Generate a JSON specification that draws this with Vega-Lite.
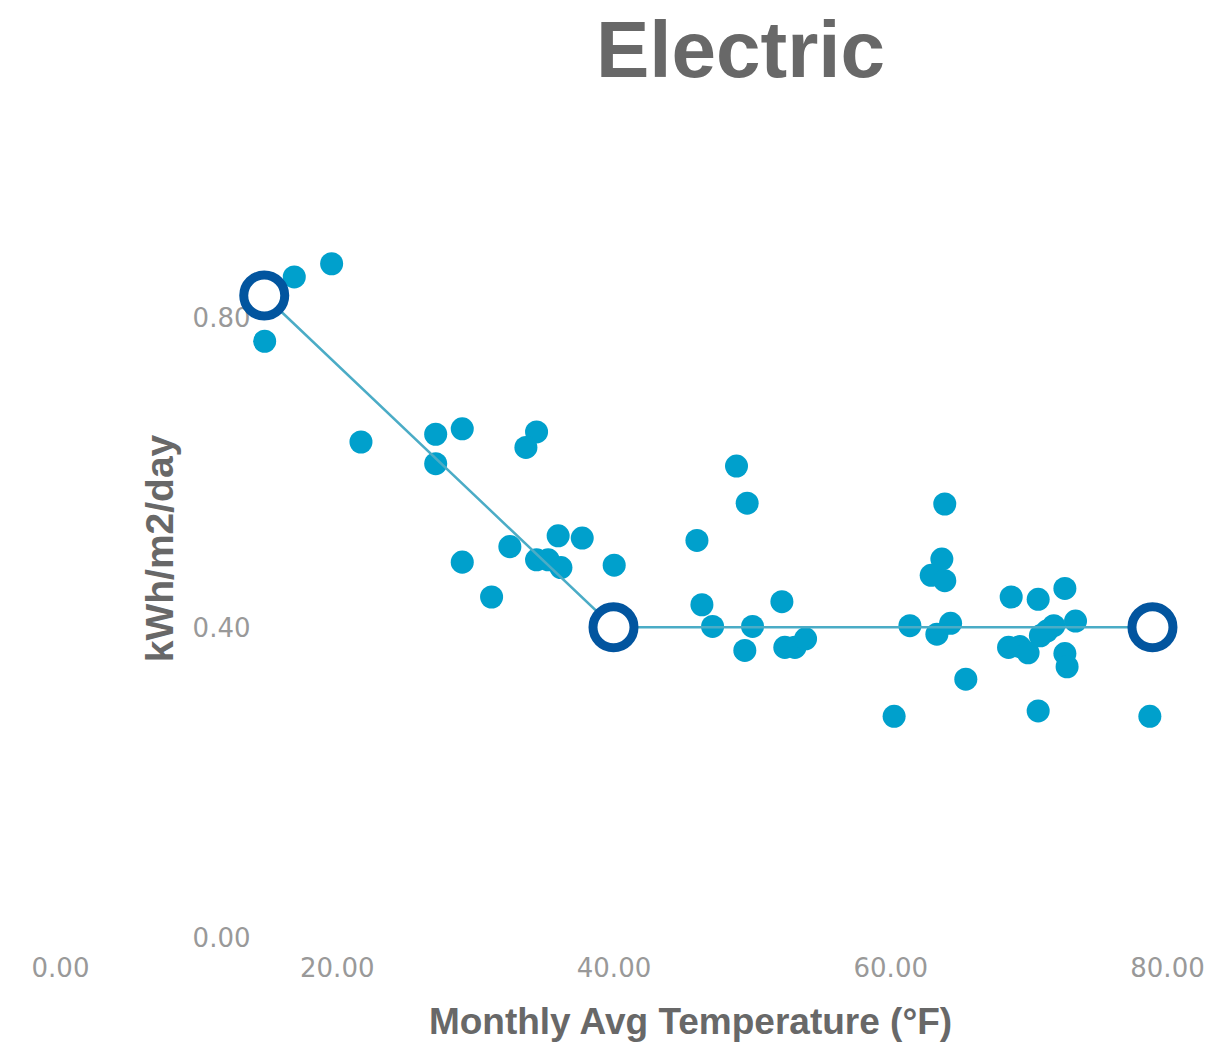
{
  "$schema": "https://vega.github.io/schema/vega-lite/v6.json",
  "width": 1107,
  "height": 775,
  "autosize": "none",
  "padding": {"left": 60, "top": 163, "right": 39, "bottom": 107},
  "background": "white",
  "config": {"view": {"stroke": null}},
  "title": {
    "text": "Electric",
    "font": "Liberation Sans",
    "fontSize": 80,
    "fontWeight": "bold",
    "color": "#686868",
    "anchor": "middle",
    "baseline": "alphabetic",
    "dx": 127,
    "offset": 6
  },
  "datasets": {
    "points": [
      {"temp": 14.79, "eui": 0.770},
      {"temp": 16.93, "eui": 0.853},
      {"temp": 19.63, "eui": 0.870},
      {"temp": 21.75, "eui": 0.640},
      {"temp": 27.15, "eui": 0.650},
      {"temp": 29.07, "eui": 0.657},
      {"temp": 27.15, "eui": 0.612},
      {"temp": 34.44, "eui": 0.653},
      {"temp": 33.67, "eui": 0.633},
      {"temp": 36.00, "eui": 0.519},
      {"temp": 37.74, "eui": 0.516},
      {"temp": 32.51, "eui": 0.505},
      {"temp": 34.44, "eui": 0.488},
      {"temp": 35.28, "eui": 0.488},
      {"temp": 36.20, "eui": 0.478},
      {"temp": 40.05, "eui": 0.481},
      {"temp": 29.07, "eui": 0.485},
      {"temp": 31.19, "eui": 0.440},
      {"temp": 46.03, "eui": 0.513},
      {"temp": 48.89, "eui": 0.609},
      {"temp": 49.66, "eui": 0.561},
      {"temp": 46.39, "eui": 0.430},
      {"temp": 47.16, "eui": 0.402},
      {"temp": 50.05, "eui": 0.402},
      {"temp": 49.49, "eui": 0.371},
      {"temp": 52.17, "eui": 0.434},
      {"temp": 52.38, "eui": 0.375},
      {"temp": 53.11, "eui": 0.375},
      {"temp": 53.88, "eui": 0.386},
      {"temp": 63.94, "eui": 0.560},
      {"temp": 63.73, "eui": 0.489},
      {"temp": 62.96, "eui": 0.468},
      {"temp": 63.94, "eui": 0.461},
      {"temp": 61.42, "eui": 0.403},
      {"temp": 63.37, "eui": 0.392},
      {"temp": 64.36, "eui": 0.406},
      {"temp": 65.46, "eui": 0.334},
      {"temp": 60.28, "eui": 0.286},
      {"temp": 68.74, "eui": 0.440},
      {"temp": 70.69, "eui": 0.437},
      {"temp": 72.62, "eui": 0.451},
      {"temp": 73.39, "eui": 0.409},
      {"temp": 71.82, "eui": 0.403},
      {"temp": 71.32, "eui": 0.396},
      {"temp": 70.85, "eui": 0.390},
      {"temp": 68.55, "eui": 0.375},
      {"temp": 69.36, "eui": 0.376},
      {"temp": 69.96, "eui": 0.368},
      {"temp": 72.62, "eui": 0.367},
      {"temp": 72.78, "eui": 0.350},
      {"temp": 70.69, "eui": 0.293},
      {"temp": 78.76, "eui": 0.286}
    ],
    "model": [
      {"temp": 14.76, "eui": 0.829},
      {"temp": 40.0, "eui": 0.401},
      {"temp": 78.95, "eui": 0.401}
    ]
  },
  "encoding": {
    "x": {
      "field": "temp",
      "type": "quantitative",
      "scale": {"domain": [0, 80], "nice": false, "zero": false},
      "axis": {
        "title": "Monthly Avg Temperature (°F)",
        "values": [0, 20, 40, 60, 80],
        "format": ".2f",
        "ticks": false,
        "domain": false,
        "grid": false,
        "labelFont": "DejaVu Sans",
        "labelFontSize": 26,
        "labelColor": "#999999",
        "labelPadding": 17,
        "labelFlush": false,
        "labelOverlap": false,
        "titleFont": "Liberation Sans",
        "titleFontSize": 37,
        "titleFontWeight": "bold",
        "titleColor": "#686868",
        "titleX": 630,
        "titleY": 95,
        "titleAlign": "center",
        "titleBaseline": "alphabetic"
      }
    },
    "y": {
      "field": "eui",
      "type": "quantitative",
      "scale": {"domain": [0, 1], "nice": false},
      "axis": {
        "title": "kWh/m2/day",
        "values": [0, 0.4, 0.8],
        "format": ".2f",
        "offset": -192,
        "ticks": false,
        "domain": false,
        "grid": false,
        "labelFont": "DejaVu Sans",
        "labelFontSize": 26,
        "labelColor": "#999999",
        "labelPadding": 2,
        "labelOverlap": false,
        "titleFont": "Liberation Sans",
        "titleFontSize": 39,
        "titleFontWeight": "bold",
        "titleColor": "#686868",
        "titleX": -80,
        "titleY": 385,
        "titleAngle": -90,
        "titleAlign": "center",
        "titleBaseline": "alphabetic"
      }
    }
  },
  "layer": [
    {
      "data": {"name": "points"},
      "mark": {"type": "circle", "size": 530, "color": "#00a0cc", "opacity": 1}
    },
    {
      "data": {"name": "model"},
      "mark": {"type": "line", "color": "#4bacc6", "strokeWidth": 2.5}
    },
    {
      "data": {"name": "model"},
      "mark": {"type": "point", "shape": "circle", "size": 1681, "filled": true, "fill": "#ffffff", "stroke": "#02559f", "strokeWidth": 9, "opacity": 1}
    }
  ]
}
